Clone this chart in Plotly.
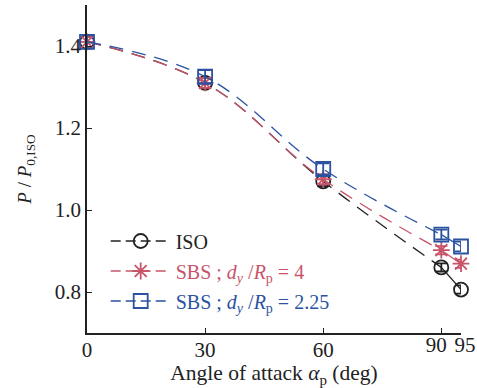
import plotly.graph_objects as go

angles = [0, 30, 60, 90, 95]
iso = [1.41, 1.31, 1.07, 0.86, 0.806]
iso_err = [0.012, 0.012, 0.012, 0.01, 0.01]
sbs4 = [1.41, 1.31, 1.075, 0.902, 0.869]
sbs4_err = [0.012, 0.012, 0.012, 0.01, 0.01]
sbs225 = [1.41, 1.325, 1.10, 0.94, 0.911]
sbs225_err = [0.016, 0.016, 0.014, 0.012, 0.012]

x_ticks_main = [0, 30, 60]
x_tick_90 = [90]
x_tick_95 = [95]
y_ticks = [0.8, 1.0, 1.2, 1.4]

black = "#222222"
red = "#c8546a"
blue = "#2a52a0"

series = [
    ("ISO", iso, iso_err, black, "circle-open"),
    ("SBS ; <i>d<sub>y</sub></i> /<i>R</i><sub>p</sub> = 4", sbs4, sbs4_err, red, "asterisk-open"),
    ("SBS ; <i>d<sub>y</sub></i> /<i>R</i><sub>p</sub> = 2.25", sbs225, sbs225_err, blue, "square-open"),
]

fig = go.Figure()
for i, (name, ys, err, col, sym) in enumerate(series):
    fig.add_trace(go.Scatter(x=angles[:4], y=ys[:4], mode="lines",
                             line=dict(color=col, width=1.3, dash="14px,9px", shape="spline", smoothing=1.1),
                             showlegend=False, hoverinfo="skip"))
    fig.add_trace(go.Scatter(x=angles[3:], y=ys[3:], mode="lines",
                             line=dict(color=col, width=1.3),
                             showlegend=False, hoverinfo="skip"))
    fig.add_trace(go.Scatter(x=angles, y=ys, mode="markers", showlegend=False,
                             marker=dict(symbol=sym, size=14, color=col, line=dict(width=1.8, color=col)),
                             error_y=dict(type="data", array=err, color=col, thickness=1.8, width=6),
                             cliponaxis=False))
    fig.add_trace(go.Scatter(x=[None], y=[None], mode="lines+markers",
                             name=f"<span style='color:{col}'>{name}</span>",
                             legendgroup=f"g{i}",
                             line=dict(color=col, width=1.3, dash="10px,5px"),
                             marker=dict(symbol=sym, size=14, color=col, line=dict(width=1.8, color=col))))

axis_common = dict(range=[0, 95], tickangle=0, automargin=False, tickfont=dict(size=21),
                   ticks="inside", ticklen=5, tickwidth=1.3, tickcolor="#222",
                   ticklabelstandoff=-3, showgrid=False, zeroline=False)

fig.update_layout(
    width=477, height=388,
    margin=dict(l=87, r=16, t=5, b=55, autoexpand=False),
    paper_bgcolor="white", plot_bgcolor="white",
    font=dict(family="Liberation Serif, Times New Roman, serif", size=20, color="#222222"),
    legend=dict(x=0.05, y=0.34, xanchor="left", yanchor="top", bgcolor="rgba(0,0,0,0)",
                font=dict(size=20), tracegroupgap=1, itemwidth=60),
    showlegend=True,
    xaxis=dict(**axis_common, tickvals=x_ticks_main, ticktext=[str(v) for v in x_ticks_main],
               showline=True, linecolor="#222", linewidth=1.5,
               title=dict(text="Angle of attack <i>α</i><sub>p</sub> (deg)", standoff=5,
                          font=dict(size=21.5))),
    xaxis2=dict(**axis_common, overlaying="x", side="bottom", anchor="y", showline=False,
                tickvals=x_tick_90, ticktext=[str(v) for v in x_tick_90], ticklabelshift=-5),
    xaxis3=dict(**axis_common, overlaying="x", side="bottom", anchor="y", showline=False,
                tickvals=x_tick_95, ticktext=[str(v) for v in x_tick_95], ticklabelshift=4),
    yaxis=dict(range=[0.7, 1.5], tickvals=y_ticks, ticktext=["0.8", "1.0", "1.2", "1.4"],
               automargin=False, tickfont=dict(size=21),
               ticks="inside", ticklen=5, tickwidth=1.3, tickcolor="#222",
               showline=True, linecolor="#222", linewidth=1.5, showgrid=False, zeroline=False,
               title=dict(text="<i>P</i> / <i>P</i><sub>0,ISO</sub>", standoff=18, font=dict(size=19))),
)
fig.add_trace(go.Scatter(x=[None], y=[None], xaxis="x2", showlegend=False, hoverinfo="skip"))
fig.add_trace(go.Scatter(x=[None], y=[None], xaxis="x3", showlegend=False, hoverinfo="skip"))

fig.write_html("out.html")
